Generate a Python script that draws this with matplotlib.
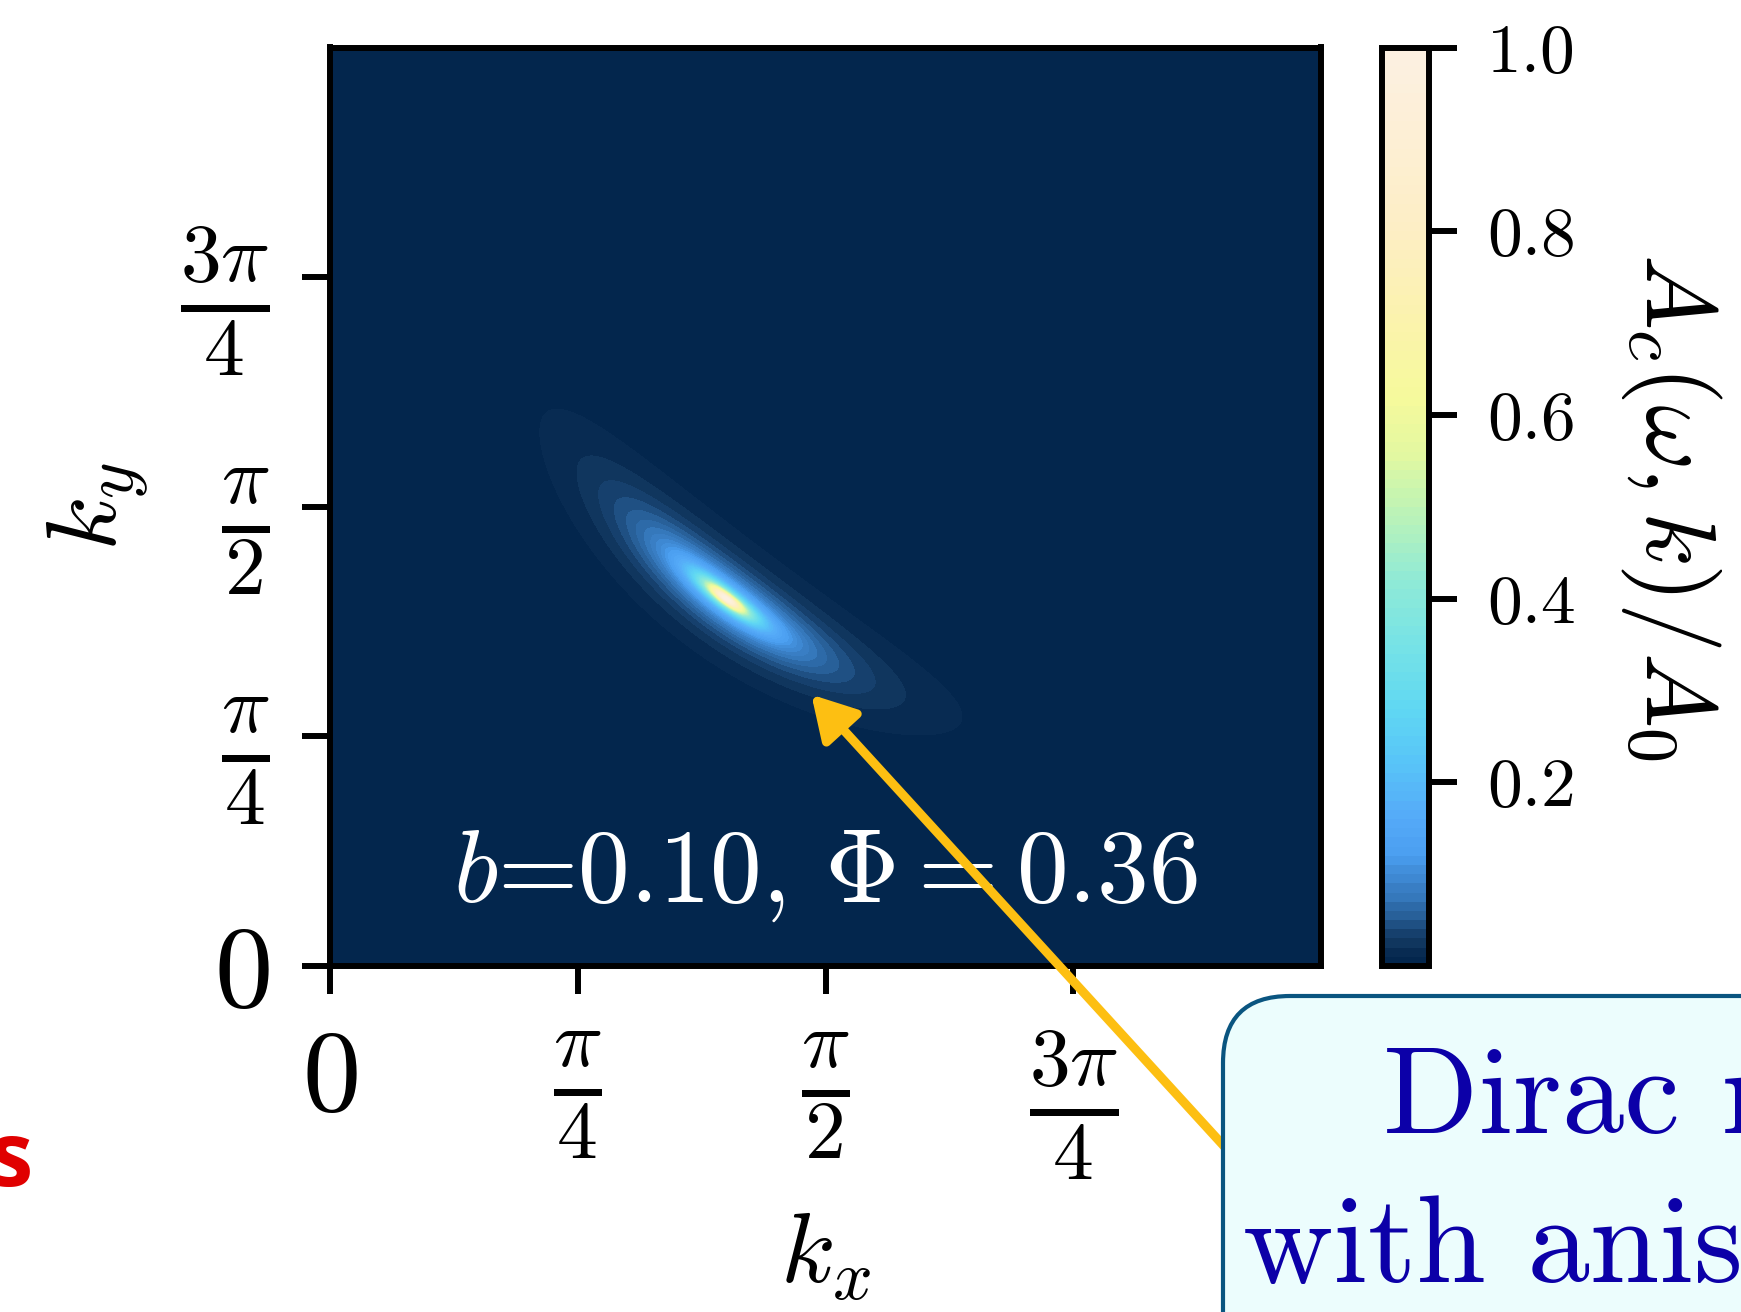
import numpy as np
import matplotlib
matplotlib.use("Agg")
import matplotlib.pyplot as plt
from matplotlib.colors import LinearSegmentedColormap
from matplotlib.patches import FancyBboxPatch

plt.rcParams['mathtext.fontset'] = 'cm'
plt.rcParams['font.family'] = 'serif'
plt.rcParams['font.serif'] = ['cmr10']
plt.rcParams['axes.unicode_minus'] = False
plt.rcParams['axes.formatter.use_mathtext'] = True

# spectral peak parameters
kx_peak = 0.40*np.pi
ky_peak = 0.40*np.pi
axis_angle = -39.0      # deg, long axis of the anisotropic peak
w_long = 0.075          # sharp core
w_short = 0.018
halo_amp = 0.045        # faint broad tail
halo_long = 0.5
halo_short = 0.12
bend = 0.18             # banana-like curvature of the tails

b_val = 0.10
phi_val = 0.36

tick_pos = [0, np.pi/4, np.pi/2, 3*np.pi/4]
tick_lab = [r'$0$', r'$\frac{\pi}{4}$', r'$\frac{\pi}{2}$', r'$\frac{3\pi}{4}$']
cb_ticks = [0.2, 0.4, 0.6, 0.8, 1.0]

cmap_stops = [(0.00, '#00234a'), (0.02, '#0d3157'), (0.07, '#3374b6'),
              (0.12, '#4a9ef0'), (0.16, '#55aaf8'), (0.22, '#58c4f8'),
              (0.28, '#60d8f2'), (0.36, '#7ae4e4'), (0.42, '#90ead6'),
              (0.50, '#c0f4b4'), (0.56, '#e4f8a0'), (0.62, '#f6fa9c'),
              (0.70, '#fbf3ac'), (0.80, '#fdeec4'), (0.90, '#fdefd4'),
              (1.00, '#fcf0e2')]
cmap = LinearSegmentedColormap.from_list('dirac', cmap_stops)

kx = np.linspace(0, np.pi, 700)
ky = np.linspace(0, np.pi, 700)
KX, KY = np.meshgrid(kx, ky)
th = np.deg2rad(axis_angle)
dx, dy = KX-kx_peak, KY-ky_peak
u = dx*np.cos(th) + dy*np.sin(th)
v = -dx*np.sin(th) + dy*np.cos(th) - bend*u**2
A = 1.0/(1.0 + (u/w_long)**2 + (v/w_short)**2)
A = A + halo_amp*np.exp(-(u/halo_long)**2 - (v/halo_short)**2)
A = A/A.max()

fig = plt.figure(figsize=(17.41, 13.12), dpi=100)
W, H = 1741., 1312.
ax = fig.add_axes([330/W, 1-966/H, (1321-330)/W, (966-47.5)/H])
cax = fig.add_axes([1382/W, 1-966/H, (1429-1382)/W, (966-47.5)/H])

cs = ax.contourf(KX, KY, A, levels=np.linspace(0, 1, 101), cmap=cmap)
ax.set_xlim(0, np.pi)
ax.set_ylim(0, np.pi)
ax.set_xticks(tick_pos)
ax.set_xticklabels(tick_lab)
ax.set_yticks(tick_pos)
ax.set_yticklabels(tick_lab)
ax.tick_params(labelsize=84, length=20, width=4.3)
ax.tick_params(axis='x', pad=26)
ax.tick_params(axis='y', pad=23.5)
for s in ax.spines.values():
    s.set_linewidth(4.3)
ax.set_xlabel(r'$k_x$', fontsize=72, labelpad=20)
ax.set_ylabel(r'$k_y$', fontsize=72, labelpad=22)

ax.text(0.5, 0.07, r'$b$=%.2f, $\Phi = %.2f$' % (b_val, phi_val),
        transform=ax.transAxes, ha='center', va='baseline',
        color='white', fontsize=74.5)

cb = fig.colorbar(cs, cax=cax, ticks=cb_ticks)
cb.ax.set_yticklabels(['%.1f' % t for t in cb_ticks])
cb.ax.tick_params(labelsize=50, length=20, width=4.3, pad=21.6)
cb.outline.set_linewidth(4.3)
cb.set_label(r'$A_c(\omega,k)/A_0$', fontsize=72, rotation=270, labelpad=107)

# arrow from the call-out box to the node
ax.annotate('', xy=(1.526, 0.928), xycoords='data',
            xytext=(13.5, 0.28), textcoords=fig.dpi_scale_trans,
            arrowprops=dict(arrowstyle='-|>,head_length=2.6,head_width=1.5',
                            color='#fdbf12', lw=6.5, shrinkA=0, shrinkB=0),
            annotation_clip=False, zorder=5)

box = FancyBboxPatch((12.23, -1.0), 7.0, 4.16,
                     boxstyle='round,pad=0,rounding_size=0.67',
                     transform=fig.dpi_scale_trans, facecolor='#ecfdfd',
                     edgecolor='#0a5580', lw=3, zorder=20)
fig.add_artist(box)
fig.text(13.83/17.41, 1-1133/H, 'Dirac nodes', color='#0c00a8',
         fontsize=90, family='cmr10', ha='left', va='baseline', zorder=21)
fig.text(12.43/17.41, 1-1282/H, 'with anisotropy', color='#0c00a8',
         fontsize=90, family='cmr10', ha='left', va='baseline', zorder=21)

fig.text(33/W, 1-1186/H, 's', color='#e00000', fontsize=64,
         family='Open Sans', weight='bold', ha='right', va='baseline')

fig.savefig('out.png', dpi=100)
